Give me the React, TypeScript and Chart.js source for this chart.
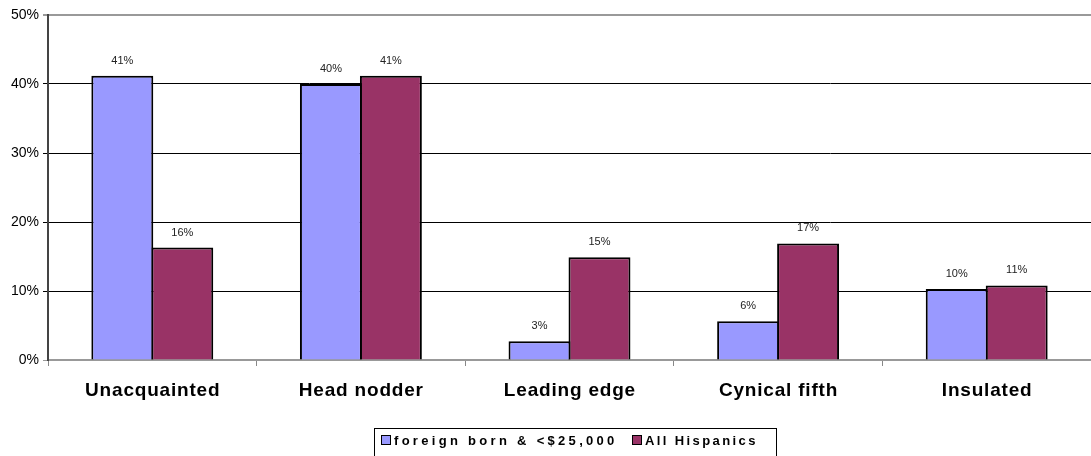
import React, { useEffect, useRef } from "react";
import { Chart, registerables } from "chart.js";

Chart.register(...registerables);

const categories = ["Unacquainted", "Head nodder", "Leading edge", "Cynical fifth", "Insulated"];
const foreignBorn = [41.2, 40.0, 2.7, 5.6, 10.3];
const allHispanics = [16.3, 41.2, 14.9, 16.9, 10.8];
const foreignLabels = ["41%", "40%", "3%", "6%", "10%"];
const allLabels = ["16%", "41%", "15%", "17%", "11%"];
const seriesNames = ["foreign born & <$25,000", "All Hispanics"];
const yTicks = [0, 10, 20, 30, 40, 50];

const BLUE = "#9999FF";
const MAROON = "#993366";
const FONT = "Arial, 'Liberation Sans', sans-serif";

const labelPlugin = {
  id: "barLabels",
  afterDatasetsDraw(chart: any) {
    const ctx = chart.ctx;
    ctx.save();
    ctx.font = `11px ${FONT}`;
    ctx.fillStyle = "#222";
    ctx.textAlign = "center";
    ctx.textBaseline = "alphabetic";
    const lbls = [foreignLabels, allLabels];
    chart.data.datasets.forEach((_: any, di: number) => {
      const meta = chart.getDatasetMeta(di);
      meta.data.forEach((bar: any, i: number) => {
        ctx.fillText(lbls[di][i], bar.x, bar.y - 12);
      });
    });
    ctx.restore();
  },
};

const xLabelPlugin = {
  id: "xLabels",
  afterDraw(chart: any) {
    const ctx = chart.ctx;
    const xs = chart.scales.x;
    ctx.save();
    ctx.font = `bold 19px ${FONT}`;
    (ctx as any).letterSpacing = "0.8px";
    ctx.fillStyle = "#000";
    ctx.textAlign = "center";
    ctx.textBaseline = "alphabetic";
    categories.forEach((c, i) => {
      ctx.fillText(c, xs.getPixelForTick(i) + 0.4, 396);
    });
    ctx.restore();
  },
};

const legendPlugin = {
  id: "boxLegend",
  afterDraw(chart: any) {
    const ctx = chart.ctx;
    ctx.save();
    ctx.strokeStyle = "#000";
    ctx.lineWidth = 1;
    ctx.strokeRect(374.5, 428.5, 402, 30);
    ctx.font = `bold 13px ${FONT}`;
    ctx.textBaseline = "middle";
    ctx.textAlign = "left";
    const items = [
      { x: 381, color: BLUE, text: seriesNames[0], sp: "3.3px" },
      { x: 632, color: MAROON, text: seriesNames[1], sp: "2.4px" },
    ];
    items.forEach((it) => {
      ctx.fillStyle = it.color;
      ctx.fillRect(it.x + 0.5, 435.5, 9, 9);
      ctx.strokeRect(it.x + 0.5, 435.5, 9, 9);
      ctx.fillStyle = "#000";
      (ctx as any).letterSpacing = it.sp;
      ctx.fillText(it.text, it.x + 13, 441);
    });
    ctx.restore();
  },
};

export default function App() {
  const ref = useRef<HTMLCanvasElement>(null);
  useEffect(() => {
    if (!ref.current) return;
    const ds = (label: string, data: number[], color: string) => ({
      label,
      data,
      backgroundColor: color,
      borderColor: "#000",
      borderWidth: 2,
      borderSkipped: "bottom" as const,
      categoryPercentage: 0.575,
      barPercentage: 1.033,
    });
    const chart = new Chart(ref.current, {
      type: "bar",
      data: {
        labels: categories,
        datasets: [ds(seriesNames[0], foreignBorn, BLUE), ds(seriesNames[1], allHispanics, MAROON)],
      },
      options: {
        animation: false,
        responsive: false,
        devicePixelRatio: 1,
        layout: { padding: { top: 15, right: 0, bottom: 0, left: 0 } },
        plugins: { legend: { display: false }, tooltip: { enabled: false } },
        scales: {
          x: {
            grid: {
              offset: true,
              drawOnChartArea: false,
              drawTicks: true,
              tickLength: 6,
              color: "#888",
            },
            border: { color: "#999", width: 2 },
            ticks: { display: false },
            afterFit(scale: any) {
              scale.height = 96;
            },
          },
          y: {
            min: 0,
            max: 50,
            afterBuildTicks(scale: any) {
              scale.ticks = yTicks.map((v) => ({ value: v }));
            },
            grid: {
              color: (c: any) => (c.tick && (c.tick.value === 50 || c.tick.value === 0) ? "#999" : "#000"),
              lineWidth: (c: any) => (c.tick && c.tick.value === 50 ? 2 : 1),
              tickLength: 5,
            },
            border: { color: "#444", width: 2 },
            ticks: {
              color: "#000",
              font: { family: FONT, size: 14 },
              padding: 4,
              callback: (v: any) => v + "%",
            },
            afterFit(scale: any) {
              scale.width = 48;
            },
          },
        },
      },
      plugins: [labelPlugin, xLabelPlugin, legendPlugin],
    });
    return () => chart.destroy();
  }, []);
  return (
    <div style={{ position: "fixed", left: 0, top: 0, width: 1091, height: 456, background: "#fff" }}>
      <canvas ref={ref} width={1091} height={456} style={{ width: 1091, height: 456 }} />
    </div>
  );
}
